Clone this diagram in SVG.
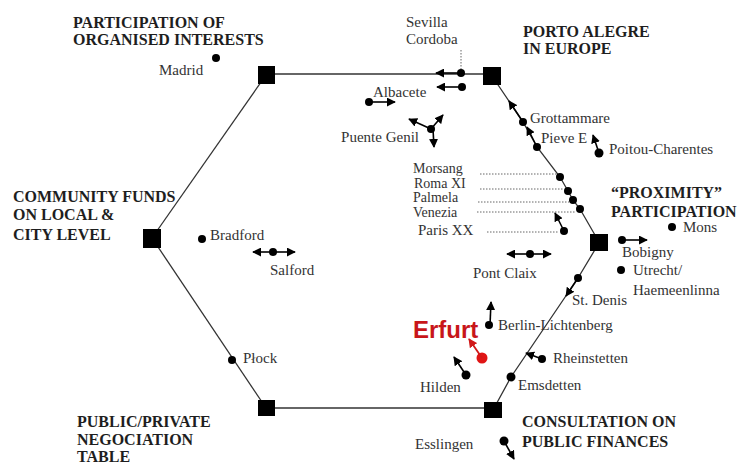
<svg xmlns="http://www.w3.org/2000/svg" width="740" height="464" viewBox="0 0 740 464">
<style>
.t{font-family:"Liberation Serif","Times New Roman",serif;font-weight:bold;font-size:16px;fill:#1e1e1e}
.c{font-family:"Liberation Serif","Times New Roman",serif;font-size:15px;fill:#333}
.cs{font-family:"Liberation Serif","Times New Roman",serif;font-size:14px;fill:#333}
.sq{fill:#000}
.dot{fill:#000}
.stem{stroke:#000;stroke-width:1.6;fill:none;marker-end:url(#ah)}
.hex{stroke:#333;stroke-width:1.3;fill:none}
.dl{stroke:#666;stroke-width:1;stroke-dasharray:1.5 1.5;fill:none}
</style>
<defs>
<marker id="ah" viewBox="0 0 10 10" refX="9" refY="5" markerWidth="9" markerHeight="9" markerUnits="userSpaceOnUse" orient="auto"><path d="M0,0 L10,5 L0,10 z" fill="#000"/></marker>
<marker id="ahr" viewBox="0 0 10 10" refX="9" refY="5" markerWidth="9" markerHeight="9" markerUnits="userSpaceOnUse" orient="auto"><path d="M0,0 L10,5 L0,10 z" fill="#d01818"/></marker>
</defs>
<rect width="740" height="464" fill="#fff"/>

<g id="connectors">
<line class="hex" x1="266" y1="74" x2="492" y2="74"/>
<line class="hex" x1="266" y1="75" x2="152" y2="238"/>
<line class="hex" x1="152" y1="238" x2="266" y2="408"/>
<line class="hex" x1="266" y1="408" x2="493" y2="408"/>
<polyline class="hex" points="492,76 523,122 537,147 560,177 568,191 573,200 580,209 599,242"/>
<polyline class="hex" points="599,243 578,278 511,377 493,410"/>
</g>

<g id="node-organised">
<rect class="sq" x="258" y="66" width="17" height="18"/>
<text class="t" x="73" y="28">PARTICIPATION OF</text>
<text class="t" x="73" y="45">ORGANISED INTERESTS</text>
</g>
<g id="node-porto">
<rect class="sq" x="483" y="67" width="18" height="18"/>
<text class="t" x="523" y="37">PORTO ALEGRE</text>
<text class="t" x="523" y="54">IN EUROPE</text>
</g>
<g id="node-community">
<rect class="sq" x="143" y="229" width="18" height="19"/>
<text class="t" x="13" y="202">COMMUNITY FUNDS</text>
<text class="t" x="13" y="220">ON LOCAL &amp;</text>
<text class="t" x="13" y="240">CITY LEVEL</text>
</g>
<g id="node-proximity">
<rect class="sq" x="590" y="234" width="18" height="17"/>
<text class="t" x="611" y="198">“PROXIMITY”</text>
<text class="t" x="611" y="217">PARTICIPATION</text>
</g>
<g id="node-public-private">
<rect class="sq" x="258" y="400" width="17" height="16"/>
<text class="t" x="77" y="427">PUBLIC/PRIVATE</text>
<text class="t" x="77" y="445">NEGOCIATION</text>
<text class="t" x="77" y="462">TABLE</text>
</g>
<g id="node-consultation">
<rect class="sq" x="484" y="402" width="18" height="16"/>
<text class="t" x="522" y="427">CONSULTATION ON</text>
<text class="t" x="522" y="447">PUBLIC FINANCES</text>
</g>

<g id="city-madrid"><circle class="dot" cx="216" cy="58" r="4"/><text class="c" x="159" y="75">Madrid</text></g>
<g id="city-sevilla">
<line class="dl" x1="461" y1="50" x2="461" y2="69"/>
<circle class="dot" cx="461" cy="73" r="4"/><path class="stem" d="M461,73 L436,73"/>
<circle class="dot" cx="462" cy="87" r="4"/><path class="stem" d="M462,87 L437,87"/>
<text class="c" x="406" y="27">Sevilla</text><text class="c" x="406" y="44">Cordoba</text>
</g>
<g id="city-albacete"><circle class="dot" cx="369" cy="102" r="4"/><path class="stem" d="M369,102 L395,102"/><text class="c" x="373" y="97">Albacete</text></g>
<g id="city-puente-genil">
<circle class="dot" cx="431" cy="129" r="4"/>
<path class="stem" d="M431,129 L409,119"/>
<path class="stem" d="M431,129 L443,115"/>
<path class="stem" d="M433,129 L434,147"/>
<text class="c" x="419" y="142" text-anchor="end">Puente Genil</text>
</g>
<g id="city-grottammare"><circle class="dot" cx="523" cy="122" r="4"/><path class="stem" d="M523,122 L509,101"/><text class="c" x="530" y="123">Grottammare</text></g>
<g id="city-pieve"><circle class="dot" cx="537" cy="147" r="4"/><path class="stem" d="M537,147 L527,127"/><text class="c" x="541" y="143">Pieve E</text></g>
<g id="city-poitou"><circle class="dot" cx="599" cy="153" r="4.5"/><path class="stem" d="M599,153 L593,135"/><text class="c" x="609" y="154">Poitou-Charentes</text></g>
<g id="city-morsang"><line class="dl" x1="480" y1="174" x2="556" y2="174"/><circle class="dot" cx="560" cy="177" r="4"/><text class="cs" x="413" y="173">Morsang</text></g>
<g id="city-roma"><line class="dl" x1="480" y1="189" x2="564" y2="189"/><circle class="dot" cx="568" cy="191" r="4"/><text class="cs" x="414" y="188">Roma XI</text></g>
<g id="city-palmela"><line class="dl" x1="478" y1="202" x2="569" y2="202"/><circle class="dot" cx="573" cy="200" r="4"/><text class="cs" x="413" y="202">Palmela</text></g>
<g id="city-venezia"><line class="dl" x1="477" y1="212" x2="576" y2="212"/><circle class="dot" cx="580" cy="209" r="4"/><text class="cs" x="413" y="217">Venezia</text></g>
<g id="city-paris"><line class="dl" x1="487" y1="232" x2="559" y2="232"/><circle class="dot" cx="564" cy="231" r="4"/><path class="stem" d="M564,231 L555,213"/><text class="c" x="418" y="235">Paris XX</text></g>
<g id="city-mons"><circle class="dot" cx="672" cy="227" r="4"/><text class="c" x="683" y="232">Mons</text></g>
<g id="city-bobigny"><circle class="dot" cx="622" cy="240" r="4"/><path class="stem" d="M622,240 L647,240"/><text class="c" x="622" y="257">Bobigny</text></g>
<g id="city-utrecht"><circle class="dot" cx="621" cy="270" r="4"/><text class="c" x="633" y="275">Utrecht/</text><text class="c" x="633" y="295">Haemeenlinna</text></g>
<g id="city-pont-claix"><circle class="dot" cx="530" cy="254" r="4"/><path class="stem" d="M530,254 L507,254"/><path class="stem" d="M530,254 L551,254"/><text class="c" x="473" y="278">Pont Claix</text></g>
<g id="city-st-denis"><circle class="dot" cx="578" cy="278" r="4"/><path class="stem" d="M578,278 L566,296"/><text class="c" x="572" y="305">St. Denis</text></g>
<g id="city-bradford"><circle class="dot" cx="202" cy="239" r="4"/><text class="c" x="210" y="240">Bradford</text></g>
<g id="city-salford"><circle class="dot" cx="273" cy="252" r="4"/><path class="stem" d="M273,252 L253,252"/><path class="stem" d="M273,252 L295,252"/><text class="c" x="270" y="275">Salford</text></g>
<g id="city-berlin"><circle class="dot" cx="489" cy="325" r="4"/><path class="stem" d="M490,325 L491,302"/><text class="c" x="498" y="330">Berlin-Lichtenberg</text></g>
<g id="city-erfurt"><circle cx="482" cy="358" r="5.5" fill="#e01515"/><path d="M482,358 L469,339" stroke="#d01818" stroke-width="1.8" fill="none" marker-end="url(#ahr)"/><text x="413" y="338" style="font-family:'Liberation Sans',Arial,sans-serif;font-weight:bold;font-size:24px;fill:#c8161a">Erfurt</text></g>
<g id="city-hilden"><circle class="dot" cx="466" cy="375" r="4.5"/><path class="stem" d="M466,375 L454,357"/><text class="c" x="420" y="392">Hilden</text></g>
<g id="city-rheinstetten"><circle class="dot" cx="542" cy="359" r="4"/><path class="stem" d="M542,359 L526,353"/><text class="c" x="553" y="363">Rheinstetten</text></g>
<g id="city-emsdetten"><circle class="dot" cx="511" cy="377" r="4.5"/><text class="c" x="518" y="390">Emsdetten</text></g>
<g id="city-plock"><circle class="dot" cx="232" cy="360" r="4"/><text class="c" x="243" y="363">Płock</text></g>
<g id="city-esslingen"><circle class="dot" cx="504" cy="441" r="4.5"/><path class="stem" d="M504,441 L514,459"/><text class="c" x="415" y="449">Esslingen</text></g>
</svg>
